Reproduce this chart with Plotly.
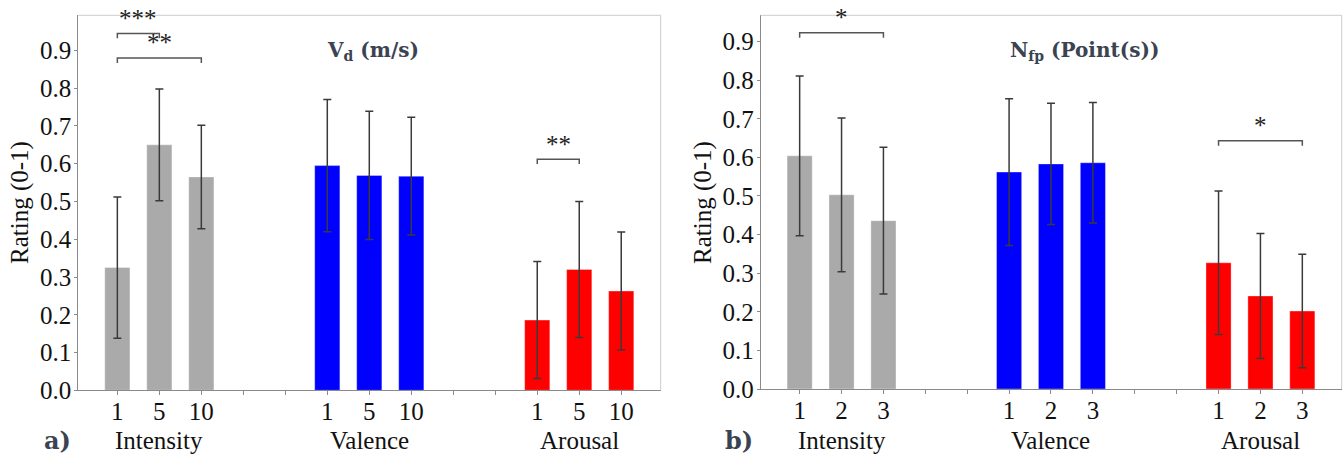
import plotly.graph_objects as go

# ---------------- data ----------------
groups = ["Intensity", "Valence", "Arousal"]
positions = [0, 1, 2, 5, 6, 7, 10, 11, 12]
all_ticks = list(range(13))

labels_a = ["1", "5", "10", "", "", "1", "5", "10", "", "", "1", "5", "10"]
labels_b = ["1", "2", "3", "", "", "1", "2", "3", "", "", "1", "2", "3"]

vd_intensity = [0.325, 0.650, 0.565]
vd_intensity_err = [0.187, 0.148, 0.137]
vd_valence = [0.595, 0.569, 0.567]
vd_valence_err = [0.175, 0.170, 0.156]
vd_arousal = [0.186, 0.320, 0.263]
vd_arousal_err = [0.155, 0.180, 0.156]

nfp_intensity = [0.604, 0.503, 0.436]
nfp_intensity_err = [0.207, 0.199, 0.190]
nfp_valence = [0.562, 0.583, 0.586]
nfp_valence_err = [0.190, 0.157, 0.156]
nfp_arousal = [0.327, 0.241, 0.202]
nfp_arousal_err = [0.186, 0.162, 0.147]

# significance brackets: (from position, to position, level, label)
sig_a = [(0, 1, 0.945, "***"), (0, 2, 0.880, "**"), (10, 11, 0.612, "**")]
sig_b = [(0, 2, 0.923, "*"), (10, 12, 0.643, "*")]

group_colors = ["#aaaaaa", "#0000ff", "#ff0000"]

W, H = 1343, 455
SERIF = "Liberation Serif, Times New Roman, Times, serif"
TITLE_FONT = "DejaVu Serif, serif"
SLATE = "#3b4252"

fig = go.Figure()

panels = [
    dict(x="x", y="y", xa="xaxis", ya="yaxis",
         vals=[vd_intensity, vd_valence, vd_arousal],
         errs=[vd_intensity_err, vd_valence_err, vd_arousal_err],
         labels=labels_a, sig=sig_a,
         xdom=[78.3 / W, 660.7 / W], ydom=[1 - 390.3 / H, 1 - 15.3 / H],
         yrange=[0, 0.993], title="<b>V<sub>d</sub> (m/s)</b>", title_x=373,
         tag="<b>a)</b>", tag_x=57, ytitle_x=20),
    dict(x="x2", y="y2", xa="xaxis2", ya="yaxis2",
         vals=[nfp_intensity, nfp_valence, nfp_arousal],
         errs=[nfp_intensity_err, nfp_valence_err, nfp_arousal_err],
         labels=labels_b, sig=sig_b,
         xdom=[760.7 / W, 1341.7 / W], ydom=[1 - 389.0 / H, 1 - 15.3 / H],
         yrange=[0, 0.968], title="<b>N<sub>fp</sub> (Point(s))</b>", title_x=1084,
         tag="<b>b)</b>", tag_x=739, ytitle_x=703),
]

annotations = []
shapes = []

for p in panels:
    for g in range(3):
        fig.add_trace(go.Bar(
            x=positions[3 * g:3 * g + 3],
            y=p["vals"][g],
            width=0.6,
            marker=dict(color=group_colors[g],
                        line=dict(color="rgba(255,255,255,0.35)", width=1)),
            error_y=dict(type="data", array=p["errs"][g], visible=True,
                         color="#3a3a3a", thickness=1.5, width=4),
            xaxis=p["x"], yaxis=p["y"], showlegend=False,
        ))

    fig.update_layout(**{
        p["xa"]: dict(domain=p["xdom"], range=[-0.93, 12.94], anchor=p["y"],
                      tickmode="array", tickvals=all_ticks, ticktext=p["labels"],
                      showline=True, linecolor="#8a8a8a", linewidth=1,
                      ticks="outside", ticklen=4, tickcolor="#8a8a8a",
                      ticklabelstandoff=-5,
                      showgrid=False, zeroline=False, automargin=False,
                      tickfont=dict(family=SERIF, size=25, color="#111111")),
        p["ya"]: dict(domain=p["ydom"], range=p["yrange"], anchor=p["x"],
                      tickmode="array", tickvals=[i / 10 for i in range(10)],
                      tickformat=".1f",
                      showline=True, linecolor="#8a8a8a", linewidth=1,
                      ticks="outside", ticklen=3, tickcolor="#8a8a8a",
                      ticklabelstandoff=-2,
                      showgrid=False, zeroline=False, automargin=False,
                      tickfont=dict(family=SERIF, size=25, color="#111111")),
    })

    # light top/right frame
    xd = p["x"] + " domain"
    yd = p["y"] + " domain"
    shapes.append(dict(type="line", xref=xd, yref=yd, x0=0, x1=1, y0=1, y1=1,
                       line=dict(color="#cccccc", width=1)))
    shapes.append(dict(type="line", xref=xd, yref=yd, x0=1, x1=1, y0=0, y1=1,
                       line=dict(color="#cccccc", width=1)))

    # significance brackets
    for (a, b, lvl, txt) in p["sig"]:
        drop = 0.013
        shapes.append(dict(type="path", xref=p["x"], yref=p["y"],
                           path=f"M {a} {lvl - drop} L {a} {lvl} L {b} {lvl} L {b} {lvl - drop}",
                           line=dict(color="#555555", width=1.5)))
        annotations.append(dict(x=(a + b) / 2, y=lvl, xref=p["x"], yref=p["y"],
                                text=txt, showarrow=False, xanchor="center",
                                yanchor="bottom", yshift=-0.5,
                                font=dict(family=SERIF, size=25, color="#222222")))

    # title
    annotations.append(dict(x=p["title_x"] / W, y=1 - 51 / H, xref="paper", yref="paper",
                            text=p["title"], showarrow=False, xanchor="center",
                            yanchor="middle",
                            font=dict(family=TITLE_FONT, size=20, color=SLATE)))
    # group labels
    for g in range(3):
        annotations.append(dict(x=positions[3 * g + 1], y=1 - 440 / H, xref=p["x"],
                                yref="paper", text=groups[g], showarrow=False,
                                xanchor="center", yanchor="middle",
                                font=dict(family=SERIF, size=25, color="#111111")))
    # panel tag
    annotations.append(dict(x=p["tag_x"] / W, y=1 - 440 / H, xref="paper", yref="paper",
                            text=p["tag"], showarrow=False, xanchor="center",
                            yanchor="middle",
                            font=dict(family=TITLE_FONT, size=24, color=SLATE)))
    # y title
    annotations.append(dict(x=p["ytitle_x"] / W, y=1 - 203 / H, xref="paper", yref="paper",
                            text="Rating (0-1)", showarrow=False, textangle=-90,
                            xanchor="center", yanchor="middle",
                            font=dict(family=SERIF, size=25, color="#111111")))

fig.update_layout(
    width=W, height=H,
    margin=dict(l=0, r=0, t=0, b=0, pad=0),
    paper_bgcolor="white", plot_bgcolor="white",
    barmode="overlay",
    annotations=annotations,
    shapes=shapes,
)

fig.write_html("out.html", config={"displayModeBar": False},
               post_script="document.body.style.margin='0';document.body.style.padding='0';")
